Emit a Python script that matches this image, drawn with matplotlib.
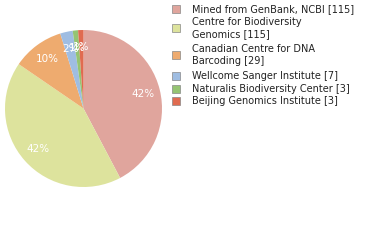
import matplotlib
matplotlib.use("Agg")
import matplotlib.pyplot as plt
from matplotlib.patches import Rectangle

# data
labels = ["Mined from GenBank, NCBI [115]",
          "Centre for Biodiversity\nGenomics [115]",
          "Canadian Centre for DNA\nBarcoding [29]",
          "Wellcome Sanger Institute [7]",
          "Naturalis Biodiversity Center [3]",
          "Beijing Genomics Institute [3]"]
counts = [115, 115, 29, 7, 3, 3]
colors = ["#e0a59d", "#dde39d", "#eeab6f", "#9fbde2", "#95c472", "#e06b50"]

W, H = 380, 240
fig = plt.figure(figsize=(W / 100, H / 100), dpi=100)

cx, cy, r = 83.5, 108.5, 78.5
ax = fig.add_axes([(cx - r) / W, (H - cy - r) / H, 2 * r / W, 2 * r / H])
wedges, texts, autotexts = ax.pie(
    counts, colors=colors, startangle=90, counterclock=False,
    autopct=lambda p: f"{int(p)}%", pctdistance=0.78,
    wedgeprops=dict(linewidth=0),
    textprops=dict(color="white", fontsize=7.5))
ax.set_aspect("equal")
ax.set_xlim(-1, 1)
ax.set_ylim(-1, 1)
ax.axis("off")

# legend drawn by hand: one square per entry, text wraps onto two lines
ys = [9, 28, 55, 76, 89, 101]
for y, lab, col in zip(ys, labels, colors):
    fig.patches.append(Rectangle(((176 - 4) / W, (H - y - 4) / H), 8 / W, 8 / H,
                                 transform=fig.transFigure, facecolor=col,
                                 edgecolor="#888888", linewidth=0.5))
    fig.text(192 / W, (H - y) / H, lab, fontsize=7, color="#222222",
             va="center", ha="left", linespacing=1.25)

fig.savefig("out.png", dpi=100)
